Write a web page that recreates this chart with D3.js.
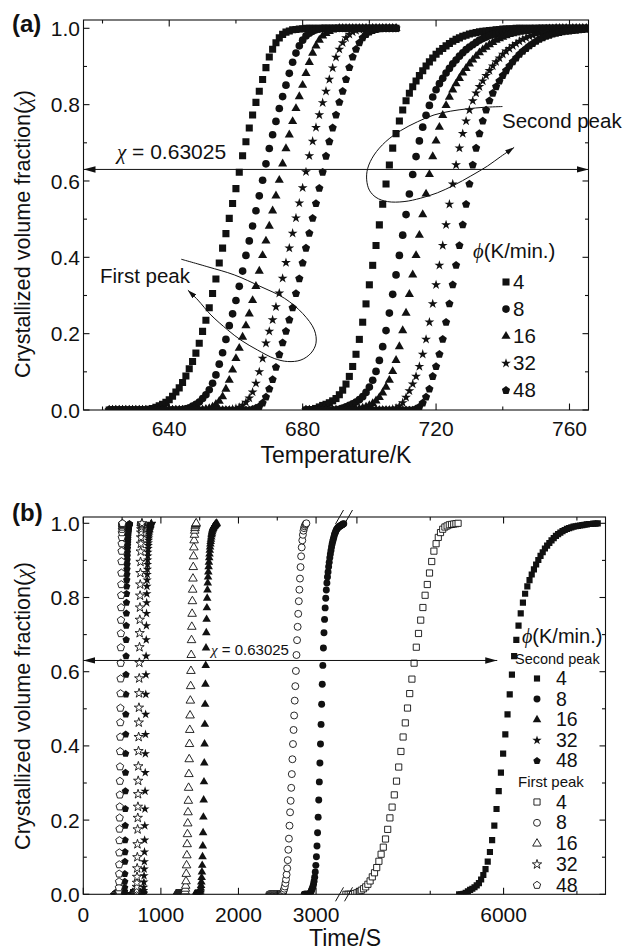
<!DOCTYPE html>
<html>
<head>
<meta charset="utf-8">
<script src="https://cdn.jsdelivr.net/npm/d3@7"></script>
<style>
  body { margin: 0; background: #fff; }
  svg text { font-family: "Liberation Sans", Arial, Helvetica, sans-serif; fill: #111; }
  .sym { font-family: "Liberation Serif", "Times New Roman", serif; font-style: italic; }
</style>
</head>
<body>
<svg id="fig" width="627" height="952"></svg>
<script>
// ---------------- data ----------------
// heating rates (K/min), one series per rate and per crystallization peak
const heatingRates = ["4", "8", "16", "32", "48"];

// DSC samples: temperature of the first sample and step between samples (K)
const firstPeakStartT = 622;
const secondPeakStartT = 681;
const sampleStepT = 1;

// crystallized volume fraction, first peak (622 K ... 708 K)
const chiFirst4 = [0,0,0,0,0,0,0,0,0,0,0,0,
  .002,.004,.007,.011,.015,.020,.027,.036,.047,.058,
  .072,.089,.108,.127,.149,.175,.206,.235,.268,.305,
  .343,.385,.424,.462,.502,.541,.580,.623,.666,.703,
  .739,.773,.806,.835,.866,.897,.925,.945,.962,.975,
  .984,.990,.993,.996,.997,.998,.999,
  1,1,1,1,1,1,1,1,1,1,1,1,1,1,1,1,1,1,1,1,1,1,1,1,1,1,1,1];
const chiFirst8 = [0,0,0,0,0,0,0,0,0,0,0,0,0,0,0,0,0,0,0,0,0,0,
  .001,.003,.006,.010,.015,.021,.030,.040,.053,.070,
  .092,.120,.150,.185,.221,.252,.287,.324,.364,.405,
  .443,.482,.522,.561,.602,.645,.685,.721,.756,.790,
  .821,.851,.882,.911,.935,.954,.969,.980,.987,.992,.996,.998,
  1,1,1,1,1,1,1,1,1,1,1,1,1,1,1,1,1,1,1,1,1,1,1];
const chiFirst16 = [0,0,0,0,0,0,0,0,0,0,0,0,0,0,0,0,0,0,0,0,0,0,0,0,0,0,0,0,0,
  .002,.004,.008,.015,.023,.035,.055,.078,.105,.135,
  .162,.191,.221,.252,.287,.324,.364,.405,.443,.482,
  .522,.561,.602,.645,.685,.721,.756,.790,.821,.851,
  .882,.911,.935,.954,.969,.980,.987,.992,.996,.998,
  1,1,1,1,1,1,1,1,1,1,1,1,1,1,1,1,1,1];
const chiFirst32 = [0,0,0,0,0,0,0,0,0,0,0,0,0,0,0,0,0,0,0,0,0,0,0,0,0,0,0,0,0,0,0,0,0,0,0,0,0,
  .002,.004,.007,.012,.020,.031,.047,.070,.100,.135,
  .175,.206,.236,.270,.306,.345,.386,.424,.463,.503,
  .542,.582,.624,.666,.704,.740,.773,.805,.835,.866,
  .896,.924,.945,.962,.975,.984,.990,.994,.997,.999,
  1,1,1,1,1,1,1,1,1,1];
const chiFirst48 = [0,0,0,0,0,0,0,0,0,0,0,0,0,0,0,0,0,0,0,0,0,0,0,0,0,0,0,0,0,0,0,0,0,0,0,0,0,0,0,0,0,0,0,
  .002,.005,.009,.018,.034,.055,.080,.112,.145,.176,
  .206,.236,.268,.305,.344,.385,.424,.463,.502,.541,
  .581,.623,.665,.703,.739,.773,.806,.835,.866,.897,
  .925,.945,.962,.975,.984,.990,.994,.997,.999,
  1,1,1,1,1];

// crystallized volume fraction, second peak (681 K ... 766 K)
const chiSecond4 = [0,0,.001,.004,.008,.012,.015,.019,.024,.030,
  .040,.052,.068,.088,.114,.146,.185,.230,.278,.328,
  .379,.431,.485,.539,.592,.642,.686,.724,.757,.786,
  .810,.830,.847,.862,.876,.889,.901,.912,.922,.932,
  .940,.947,.954,.960,.966,.971,.975,.979,.982,.985,
  .987,.989,.991,.992,.993,.994,.995,.996,.997,.998,
  .998,.999,.999,
  1,1,1,1,1,1,1,1,1,1,1,1,1,1,1,1,1,1,1,1,1,1,1];
const chiSecond8 = [0,0,0,0,0,0,0,0,0,
  0,.002,.005,.008,.012,.016,.021,.027,.035,.046,
  .060,.078,.101,.130,.166,.208,.254,.303,.354,.405,
  .458,.512,.566,.617,.664,.705,.741,.772,.798,.820,
  .839,.855,.869,.883,.895,.907,.917,.927,.936,.944,
  .951,.957,.963,.969,.973,.977,.981,.984,.986,.988,
  .990,.991,.992,.993,.994,.995,.996,.997,.998,.999,.999,
  1,1,1,1,1,1,1,1,1,1,1,1,1,1,1,1];
const chiSecond16 = [0,0,0,0,0,0,0,0,0,0,0,0,0,0,0,
  .001,.003,.005,.008,.012,.017,.024,.033,.045,.060,
  .078,.101,.130,.166,.208,.254,.303,.354,.405,.458,
  .512,.566,.617,.664,.705,.741,.772,.798,.820,.839,
  .855,.869,.883,.895,.907,.917,.927,.936,.944,.951,
  .957,.963,.969,.973,.977,.981,.984,.986,.988,.990,
  .991,.992,.993,.994,.995,.996,.997,.998,.999,.999,
  1,1,1,1,1,1,1,1,1,1,1];
const chiSecond32 = [0,0,0,0,0,0,0,0,0,0,0,0,0,0,0,0,0,0,0,0,0,0,0,0,0,0,
  .002,.005,.010,.019,.033,.050,.068,.088,.114,.146,
  .185,.230,.278,.328,.379,.431,.485,.539,.592,.642,
  .686,.724,.757,.786,.810,.830,.847,.862,.876,.889,
  .901,.912,.922,.932,.940,.947,.954,.960,.966,.971,
  .975,.979,.982,.985,.987,.989,.991,.992,.993,.994,
  .995,.996,.997,.998,.998,.999,.999,
  1,1,1];
const chiSecond48 = [0,0,0,0,0,0,0,0,0,0,0,0,0,0,0,0,0,0,0,0,0,0,0,0,0,0,0,0,0,0,0,0,0,
  .003,.008,.018,.034,.055,.088,.114,.146,.185,.230,
  .278,.328,.379,.431,.485,.539,.592,.642,.686,.724,
  .757,.786,.810,.830,.847,.862,.876,.889,.901,.912,
  .922,.932,.940,.947,.954,.960,.966,.971,.975,.979,
  .982,.985,.987,.989,.991,.992,.993,.994,.995,.996,.997,.998,.998];

const chiFirst = [chiFirst4, chiFirst8, chiFirst16, chiFirst32, chiFirst48];
const chiSecond = [chiSecond4, chiSecond8, chiSecond16, chiSecond32, chiSecond48];

// time base of panel (b): time of the first sample (s) and time per sample (s)
const timeStartFirst = [4805, 2395, 1196, 612, 402];
const timeStartSecond = [5697, 2847, 1439, 725, 489];
const timePerSample = [15, 7.5, 3.75, 1.875, 1.25];

// reference fraction marked by the arrows
const chiRef = 0.63025;

// tick values
const tempTicks = [640, 680, 720, 760];
const tempMinorTicks = [620, 660, 700, 740];
const chiTicks = [0, 0.2, 0.4, 0.6, 0.8, 1.0];
const chiMinorTicks = [0.1, 0.3, 0.5, 0.7, 0.9];
const timeTicksLow = [0, 1000, 2000, 3000];
const timeMinorLow = [500, 1500, 2500];
const timeTicksHigh = [5000, 6000];
const timeLabelsHigh = ["", "6000"];
const timeMinorHigh = [5500, 6500];

// annotation loops (temperature K, fraction)
const firstPeakLoop = [[643.6,.395],[651.6,.375],[659.5,.354],[667.5,.323],[674.5,.293],[680.0,.253],
  [683.5,.210],[684.0,.175],[682.5,.149],[679.5,.131],[675.5,.127],[671.5,.135],[666.5,.157],
  [661.5,.183],[657.5,.210],[652.5,.249],[648.6,.288],[645.6,.314]];
const secondPeakLoop = [[739.9,.795],[734.4,.793],[729.4,.789],[724.4,.783],[719.4,.773],[714.4,.755],
  [709.4,.732],[704.9,.703],[701.4,.668],[699.5,.633],[699.2,.603],[700.0,.576],[702.0,.557],
  [705.4,.546],[710.4,.546],[715.4,.555],[720.4,.569],[725.4,.589],[730.4,.613],[735.4,.639],
  [739.4,.664],[743.4,.688]];

// ---------------- drawing ----------------
const ink = "#111";
const svg = d3.select("#fig");
const defs = svg.append("defs");

const symbolPentagon = {
  draw(ctx, size) {
    const r = Math.sqrt(size / 2.3776);
    for (let i = 0; i < 5; i++) {
      const a = -Math.PI / 2 + i * 2 * Math.PI / 5;
      const px = r * Math.cos(a), py = r * Math.sin(a);
      if (i) ctx.lineTo(px, py); else ctx.moveTo(px, py);
    }
    ctx.closePath();
  }
};
const shapes = [d3.symbolSquare, d3.symbolCircle, d3.symbolTriangle, d3.symbolStar, symbolPentagon];
const sizeA = [50, 46, 36, 30, 44];
const sizeB = [38, 38, 32, 27, 36];

function arrowMarker(id, len, half) {
  defs.append("marker").attr("id", id)
    .attr("markerUnits", "userSpaceOnUse")
    .attr("viewBox", `0 0 ${len} ${2 * half}`)
    .attr("refX", len).attr("refY", half)
    .attr("markerWidth", len).attr("markerHeight", 2 * half)
    .attr("orient", "auto-start-reverse")
    .append("path").attr("d", `M0,0L${len},${half}L0,${2 * half}Z`).attr("fill", ink);
}
arrowMarker("arrBig", 12, 3.2);
arrowMarker("arrSmall", 9, 2.8);

function clip(id, x0, y0, x1, y1) {
  defs.append("clipPath").attr("id", id)
    .append("rect").attr("x", x0).attr("y", y0).attr("width", x1 - x0).attr("height", y1 - y0);
}

function drawTicksY(g, y, x0, x1) {
  chiTicks.forEach(v => {
    g.append("line").attr("x1", x0).attr("x2", x0 + 6).attr("y1", y(v)).attr("y2", y(v));
    g.append("line").attr("x1", x1).attr("x2", x1 - 6).attr("y1", y(v)).attr("y2", y(v));
    g.append("text").attr("x", x0 - 3.5).attr("y", y(v)).attr("dy", "0.36em")
      .attr("text-anchor", "end").attr("font-size", 21).text(d3.format(".1f")(v));
  });
  chiMinorTicks.forEach(v => {
    g.append("line").attr("x1", x0).attr("x2", x0 + 3.5).attr("y1", y(v)).attr("y2", y(v));
    g.append("line").attr("x1", x1).attr("x2", x1 - 3.5).attr("y1", y(v)).attr("y2", y(v));
  });
}
function drawTickX(g, px, y0, y1, len) {
  g.append("line").attr("x1", px).attr("x2", px).attr("y1", y1).attr("y2", y1 - len);
  g.append("line").attr("x1", px).attr("x2", px).attr("y1", y0).attr("y2", y0 + len);
}

function yTitle(cx, cy) {
  const t = svg.append("text").attr("transform", `translate(${cx},${cy}) rotate(-90)`)
    .attr("text-anchor", "middle").attr("dy", "0.35em").attr("font-size", 21.6);
  t.append("tspan").text("Crystallized volume fraction(");
  t.append("tspan").attr("class", "sym").text("χ");
  t.append("tspan").text(")");
}

// ===== panel (a): fraction vs temperature =====
const A = { left: 83.5, right: 588.5, top: 20, bottom: 410 };
const xA = d3.scaleLinear().domain([614.3, 765.7]).range([A.left, A.right]);
const yA = d3.scaleLinear().domain([0, 1]).range([410, 28.3]);
clip("clipA", A.left, A.top, A.right, A.bottom);

const gA = svg.append("g").attr("clip-path", "url(#clipA)");
[[chiFirst, firstPeakStartT], [chiSecond, secondPeakStartT]].forEach(([group, t0]) => {
  group.forEach((chi, k) => {
    const sym = d3.symbol().type(shapes[k]).size(sizeA[k]);
    gA.append("g").selectAll("path").data(chi).join("path")
      .attr("d", sym)
      .attr("transform", (c, i) => `translate(${xA(t0 + i * sampleStepT)},${yA(c)})`)
      .attr("fill", ink);
  });
});

// reference level arrow
svg.append("line").attr("x1", A.left).attr("x2", A.right)
  .attr("y1", yA(chiRef)).attr("y2", yA(chiRef))
  .attr("stroke", ink).attr("stroke-width", 1)
  .attr("marker-start", "url(#arrBig)").attr("marker-end", "url(#arrBig)");
const refA = svg.append("text").attr("x", 117).attr("y", 159).attr("font-size", 21);
refA.append("tspan").attr("class", "sym").text("χ");
refA.append("tspan").text(" = 0.63025");

// annotation loops
const loopLine = d3.line().x(d => xA(d[0])).y(d => yA(d[1])).curve(d3.curveCatmullRom.alpha(0.5));
svg.append("path").attr("d", loopLine(firstPeakLoop)).attr("fill", "none")
  .attr("stroke", ink).attr("stroke-width", 1).attr("marker-end", "url(#arrSmall)");
svg.append("path").attr("d", loopLine(secondPeakLoop)).attr("fill", "none")
  .attr("stroke", ink).attr("stroke-width", 1).attr("marker-end", "url(#arrSmall)");
svg.append("text").attr("x", 100).attr("y", 283).attr("font-size", 20.5).text("First peak");
svg.append("text").attr("x", 502).attr("y", 128).attr("font-size", 20.5).text("Second peak");

// legend (a)
const legA = svg.append("g");
const legAhead = legA.append("text").attr("x", 473).attr("y", 258).attr("font-size", 20.5);
legAhead.append("tspan").attr("class", "sym").text("ϕ");
legAhead.append("tspan").text("(K/min.)");
heatingRates.forEach((r, k) => {
  const yy = 282 + k * 27.1;
  legA.append("path").attr("d", d3.symbol().type(shapes[k]).size(sizeA[k])())
    .attr("transform", `translate(506,${yy})`).attr("fill", ink);
  legA.append("text").attr("x", 513).attr("y", yy + 7).attr("font-size", 20.5).text(r);
});

// axes (a)
const axA = svg.append("g").attr("stroke", ink).attr("stroke-width", 1.1);
axA.append("rect").attr("x", A.left).attr("y", A.top).attr("width", A.right - A.left)
  .attr("height", A.bottom - A.top).attr("fill", "none");
drawTicksY(axA, yA, A.left, A.right);
tempTicks.forEach(v => {
  drawTickX(axA, xA(v), A.top, A.bottom, 6.5);
  axA.append("text").attr("x", xA(v)).attr("y", 436).attr("text-anchor", "middle")
    .attr("font-size", 21).text(v);
});
tempMinorTicks.forEach(v => drawTickX(axA, xA(v), A.top, A.bottom, 3.5));
axA.selectAll("text").attr("stroke", "none");
svg.append("text").attr("x", 336).attr("y", 463).attr("text-anchor", "middle")
  .attr("font-size", 23).text("Temperature/K");
yTitle(22, 234);
svg.append("text").attr("x", 12).attr("y", 32).attr("font-size", 24).attr("font-weight", "bold").text("(a)");

// ===== panel (b): fraction vs time, broken time axis =====
const B = { left: 83.3, right: 605.5, top: 517, bottom: 894.3, brk: 344 };
const xLow = d3.scaleLinear().domain([0, 3360]).range([B.left, B.brk]);
const xHigh = d3.scaleLinear().domain([4912, 6695]).range([B.brk, B.right]);
const xB = t => (t <= 3360 ? xLow(t) : (t >= 4912 ? xHigh(t) : NaN));
const yB = d3.scaleLinear().domain([0, 1]).range([894.3, 523.3]);
clip("clipB", B.left, B.top, B.right, B.bottom);

function timeSeries(chi, t0, dt) {
  const end = chi.findIndex(c => c >= 1);
  const kept = end < 0 ? chi : chi.slice(0, end + 1);
  return kept.map((c, i) => [t0 + i * dt, c]).filter(d => !isNaN(xB(d[0])));
}

const gB = svg.append("g").attr("clip-path", "url(#clipB)");
// second peak: filled symbols
chiSecond.forEach((chi, k) => {
  const sym = d3.symbol().type(shapes[k]).size(sizeB[k]);
  gB.append("g").selectAll("path").data(timeSeries(chi, timeStartSecond[k], timePerSample[k])).join("path")
    .attr("d", sym).attr("transform", d => `translate(${xB(d[0])},${yB(d[1])})`).attr("fill", ink);
});
// first peak: open symbols
chiFirst.forEach((chi, k) => {
  const sym = d3.symbol().type(shapes[k]).size(sizeB[k]);
  gB.append("g").selectAll("path").data(timeSeries(chi, timeStartFirst[k], timePerSample[k])).join("path")
    .attr("d", sym).attr("transform", d => `translate(${xB(d[0])},${yB(d[1])})`)
    .attr("fill", "#fff").attr("stroke", ink).attr("stroke-width", 0.9);
});

// reference level arrow (b)
svg.append("line").attr("x1", B.left).attr("x2", xHigh(5957))
  .attr("y1", yB(chiRef)).attr("y2", yB(chiRef))
  .attr("stroke", ink).attr("stroke-width", 1)
  .attr("marker-start", "url(#arrBig)").attr("marker-end", "url(#arrBig)");
const refB = svg.append("text").attr("x", 211).attr("y", 655).attr("font-size", 15);
refB.append("tspan").attr("class", "sym").text("χ");
refB.append("tspan").text(" = 0.63025");

// legend (b)
const legB = svg.append("g");
const legBhead = legB.append("text").attr("x", 522).attr("y", 643).attr("font-size", 20);
legBhead.append("tspan").attr("class", "sym").text("ϕ");
legBhead.append("tspan").text("(K/min.)");
legB.append("text").attr("x", 515).attr("y", 664).attr("font-size", 14.5).text("Second peak");
legB.append("text").attr("x", 518).attr("y", 787).attr("font-size", 15).text("First peak");
heatingRates.forEach((r, k) => {
  const ys = 678.5 + k * 20.6, yf = 802 + k * 20.8;
  legB.append("path").attr("d", d3.symbol().type(shapes[k]).size(sizeB[k])())
    .attr("transform", `translate(537,${ys})`).attr("fill", ink);
  legB.append("text").attr("x", 556).attr("y", ys + 6.5).attr("font-size", 19.5).text(r);
  legB.append("path").attr("d", d3.symbol().type(shapes[k]).size(sizeB[k])())
    .attr("transform", `translate(537,${yf})`).attr("fill", "#fff").attr("stroke", ink).attr("stroke-width", 0.9);
  legB.append("text").attr("x", 556).attr("y", yf + 6.5).attr("font-size", 19.5).text(r);
});

// axes (b)
const axB = svg.append("g").attr("stroke", ink).attr("stroke-width", 1.1);
axB.append("rect").attr("x", B.left).attr("y", B.top).attr("width", B.right - B.left)
  .attr("height", B.bottom - B.top).attr("fill", "none");
drawTicksY(axB, yB, B.left, B.right);
timeTicksLow.forEach(v => {
  drawTickX(axB, xLow(v), B.top, B.bottom, 6.5);
  axB.append("text").attr("x", xLow(v)).attr("y", 921.5).attr("text-anchor", "middle")
    .attr("font-size", 21).text(v);
});
timeMinorLow.forEach(v => drawTickX(axB, xLow(v), B.top, B.bottom, 3.5));
timeTicksHigh.forEach((v, i) => {
  drawTickX(axB, xHigh(v), B.top, B.bottom, 6.5);
  axB.append("text").attr("x", xHigh(v)).attr("y", 921.5).attr("text-anchor", "middle")
    .attr("font-size", 21).text(timeLabelsHigh[i]);
});
timeMinorHigh.forEach(v => drawTickX(axB, xHigh(v), B.top, B.bottom, 3.5));
axB.selectAll("text").attr("stroke", "none");

// axis break marks
[B.bottom, B.top].forEach(yy => {
  [-4.5, 4.5].forEach(off => {
    svg.append("line").attr("x1", B.brk + off - 4).attr("y1", yy + 7)
      .attr("x2", B.brk + off + 4).attr("y2", yy - 7)
      .attr("stroke", ink).attr("stroke-width", 1);
  });
});

svg.append("text").attr("x", 345).attr("y", 946).attr("text-anchor", "middle")
  .attr("font-size", 23).text("Time/S");
yTitle(22, 706);
svg.append("text").attr("x", 12).attr("y", 521).attr("font-size", 24).attr("font-weight", "bold").text("(b)");
</script>
</body>
</html>
